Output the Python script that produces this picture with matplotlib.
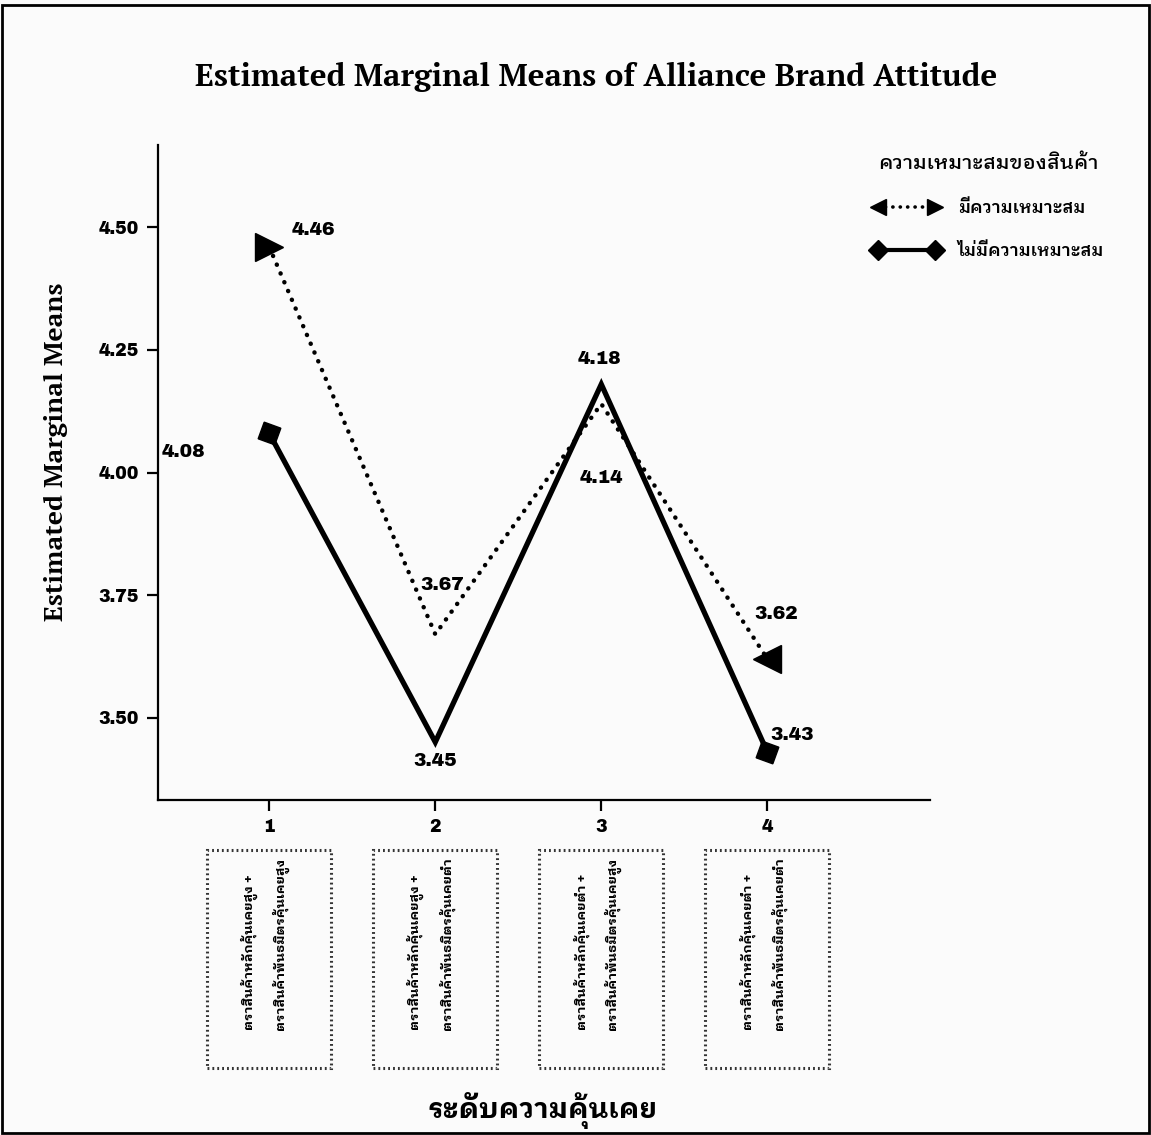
import matplotlib
matplotlib.use("Agg")
import matplotlib.pyplot as plt
from matplotlib import font_manager as fm
from matplotlib.patches import Rectangle
from matplotlib.lines import Line2D

# ---- data -------------------------------------------------------------
groups = [1, 2, 3, 4]
fit_means = [4.46, 3.67, 4.14, 3.62]        # มีความเหมาะสม
nofit_means = [4.08, 3.45, 4.18, 3.43]      # ไม่มีความเหมาะสม
yticks = [3.50, 3.75, 4.00, 4.25, 4.50]
box_lines = [
    ("ตราสินค้าหลักคุ้นเคยสูง +", "ตราสินค้าพันธมิตรคุ้นเคยสูง"),
    ("ตราสินค้าหลักคุ้นเคยสูง +", "ตราสินค้าพันธมิตรคุ้นเคยต่ำ"),
    ("ตราสินค้าหลักคุ้นเคยต่ำ +", "ตราสินค้าพันธมิตรคุ้นเคยสูง"),
    ("ตราสินค้าหลักคุ้นเคยต่ำ +", "ตราสินค้าพันธมิตรคุ้นเคยต่ำ"),
]
title = "Estimated Marginal Means of Alliance Brand Attitude"
ylabel = "Estimated Marginal Means"
xlabel = "ระดับความคุ้นเคย"
legend_title = "ความเหมาะสมของสินค้า"
legend_labels = ["มีความเหมาะสม", "ไม่มีความเหมาะสม"]

installed = {f.name for f in fm.fontManager.ttflist}


def pick(*names):
    for n in names:
        if n in installed:
            return n
    return "DejaVu Sans"


thai = pick("IBM Plex Sans Thai Looped", "Sarabun", "Noto Sans Thai Looped", "Noto Sans Thai")
thai_family = [thai, "DejaVu Sans"]
num_font = pick("Archivo Black", "Liberation Sans")
serif = pick("PT Serif", "Liberation Serif")

BG = "#fbfbfb"
fig = plt.figure(figsize=(11.51, 11.35), dpi=100, facecolor=BG)
ax = fig.add_axes([0.1373, 0.2952, 0.6707, 0.5770])
ax.set_facecolor(BG)

# lines
ax.plot(groups, fit_means, color="black", lw=3.2, linestyle=(0, (0.05, 2.1)),
        dash_capstyle="round", zorder=3)
ax.plot(groups, nofit_means, color="black", lw=3.8, solid_joinstyle="miter", zorder=4)

# end markers
ax.plot(groups[0], fit_means[0], marker=">", ms=20, color="black", zorder=5)
ax.plot(groups[-1], fit_means[-1], marker="<", ms=20, color="black", zorder=5)
ax.plot(groups[0], nofit_means[0], marker=(4, 0, 25), ms=18, color="black", zorder=5)
ax.plot(groups[-1], nofit_means[-1], marker=(4, 0, 25), ms=18, color="black", zorder=5)

# value labels (offsets in points)
fit_off = [(32, 12), (5, 35), (0, -54), (6, 32)]
nofit_off = [(-62, -14), (0, -14), (-1, 18), (18, 12)]
lab_kw = dict(textcoords="offset points", ha="center", va="center",
              fontsize=13.5, family=num_font, zorder=6)
for x, y, off in zip(groups, fit_means, fit_off):
    ax.annotate(f"{y:.2f}", (x, y), xytext=off, **lab_kw)
for x, y, off in zip(groups, nofit_means, nofit_off):
    ax.annotate(f"{y:.2f}", (x, y), xytext=off, **lab_kw)

ax.set_xlim(0.33, 4.98)
ax.set_ylim(3.332, 4.668)
ax.set_yticks(yticks)
ax.set_yticklabels([f"{v:.2f}" for v in yticks], fontsize=12.5, family=num_font)
ax.set_xticks(groups)
ax.set_xticklabels([str(g) for g in groups], fontsize=12.5, family=num_font)
ax.tick_params(axis="both", length=8, width=1.6, color="black", pad=6)
for side in ("top", "right"):
    ax.spines[side].set_visible(False)
for side in ("left", "bottom"):
    ax.spines[side].set_linewidth(1.6)

ax.set_ylabel(ylabel, family=serif, fontweight="bold", fontsize=19)
ax.yaxis.set_label_coords(-0.117, 0.531)

fig.text(0.518, 0.932, title, ha="center", va="center", family=serif,
         fontweight="bold", fontsize=22.5)

# category boxes under the x axis
box_w, box_h = 0.108, 0.192
box_top = 0.251
text_base = 1 - 1030 / 1135
for g, (l1, l2) in zip(groups, box_lines):
    xd = ax.transData.transform((g, 3.5))[0]
    xc = fig.transFigure.inverted().transform((xd, 0))[0]
    fig.patches.append(Rectangle((xc - box_w / 2, box_top - box_h), box_w, box_h,
                                 transform=fig.transFigure, fill=False,
                                 ec="#333333", lw=2.2, ls=(0, (0.6, 1.0))))
    fig.text(xc - 0.017, text_base, l1, rotation=90, rotation_mode="anchor",
             ha="left", va="center", family=thai_family, fontweight="bold",
             fontsize=9.5)
    fig.text(xc + 0.010, text_base, l2, rotation=90, rotation_mode="anchor",
             ha="left", va="center", family=thai_family, fontweight="bold",
             fontsize=9.5)

fig.text(0.471, 0.022, xlabel, ha="center", va="center", family=thai_family,
         fontweight="bold", fontsize=20)

# legend
fig.text(0.763, 0.856, legend_title, ha="left", va="center", family=thai_family,
         fontweight="medium", fontsize=14.5)
lx0, lx1 = 0.763, 0.812
ly1, ly2 = 0.8175, 0.7795
fig.lines.append(Line2D([lx0, lx1], [ly1, ly1], transform=fig.transFigure, color="black",
                        lw=2.6, linestyle=(0, (0.05, 2.0)), dash_capstyle="round"))
fig.lines.append(Line2D([lx0], [ly1], transform=fig.transFigure, marker="<", ms=12,
                        color="black"))
fig.lines.append(Line2D([lx1], [ly1], transform=fig.transFigure, marker=">", ms=12,
                        color="black"))
fig.lines.append(Line2D([lx0, lx1], [ly2, ly2], transform=fig.transFigure, color="black",
                        lw=3, marker="D", ms=10))
fig.text(0.832, ly1, legend_labels[0], ha="left", va="center", family=thai_family,
         fontweight="semibold", fontsize=12.5)
fig.text(0.832, ly2, legend_labels[1], ha="left", va="center", family=thai_family,
         fontweight="semibold", fontsize=12.5)

# outer frame
fig.patches.append(Rectangle((0.002, 0.002), 0.996, 0.994, transform=fig.transFigure,
                             fill=False, ec="black", lw=2))

fig.savefig("out.png", dpi=100, facecolor=fig.get_facecolor())
